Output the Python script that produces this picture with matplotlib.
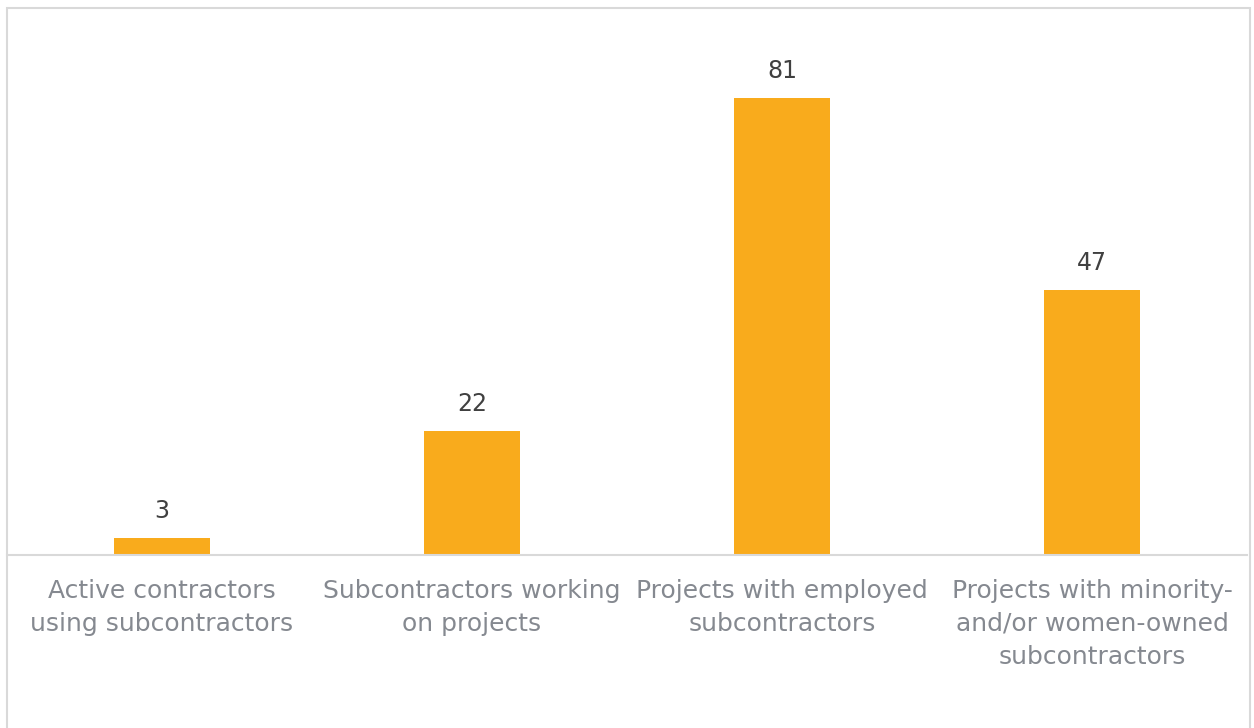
import matplotlib.pyplot as plt
from matplotlib.patches import Rectangle

categories = [
    "Active contractors\nusing subcontractors",
    "Subcontractors working\non projects",
    "Projects with employed\nsubcontractors",
    "Projects with minority-\nand/or women-owned\nsubcontractors",
]
values = [3, 22, 81, 47]

plt.rcParams['font.family'] = ['DejaVu Sans']

fig = plt.figure(figsize=(12.54, 7.28), dpi=100)
ax = fig.add_axes([7 / 1254, 173 / 728, 1240 / 1254, 507.6 / 728])

x = range(len(values))
bars = ax.bar(x, values, width=0.31, color='#F9AB1C', zorder=2)
for b, v in zip(bars, values):
    ax.text(b.get_x() + b.get_width() / 2, v + 2.6, str(v),
            ha='center', va='bottom', fontsize=17, color='#404040')

ax.set_xlim(-0.5, 3.5)
ax.set_ylim(0, 90)
ax.set_yticks([])
ax.set_xticks(list(x))
ax.set_xticklabels(categories, fontsize=18, color='#858990', linespacing=1.48)
ax.tick_params(axis='x', length=0, pad=17)
for s in ['top', 'left', 'right']:
    ax.spines[s].set_visible(False)
ax.spines['bottom'].set_color('#D9D9D9')
ax.spines['bottom'].set_linewidth(1.5)

# light frame round the whole chart, open at the bottom edge
fig.patches.append(Rectangle((7 / 1254, -0.02), 1243 / 1254, 1.009,
                             transform=fig.transFigure, fill=False,
                             edgecolor='#D9D9D9', linewidth=1.5))

fig.savefig('out.png', dpi=100, facecolor='white')
